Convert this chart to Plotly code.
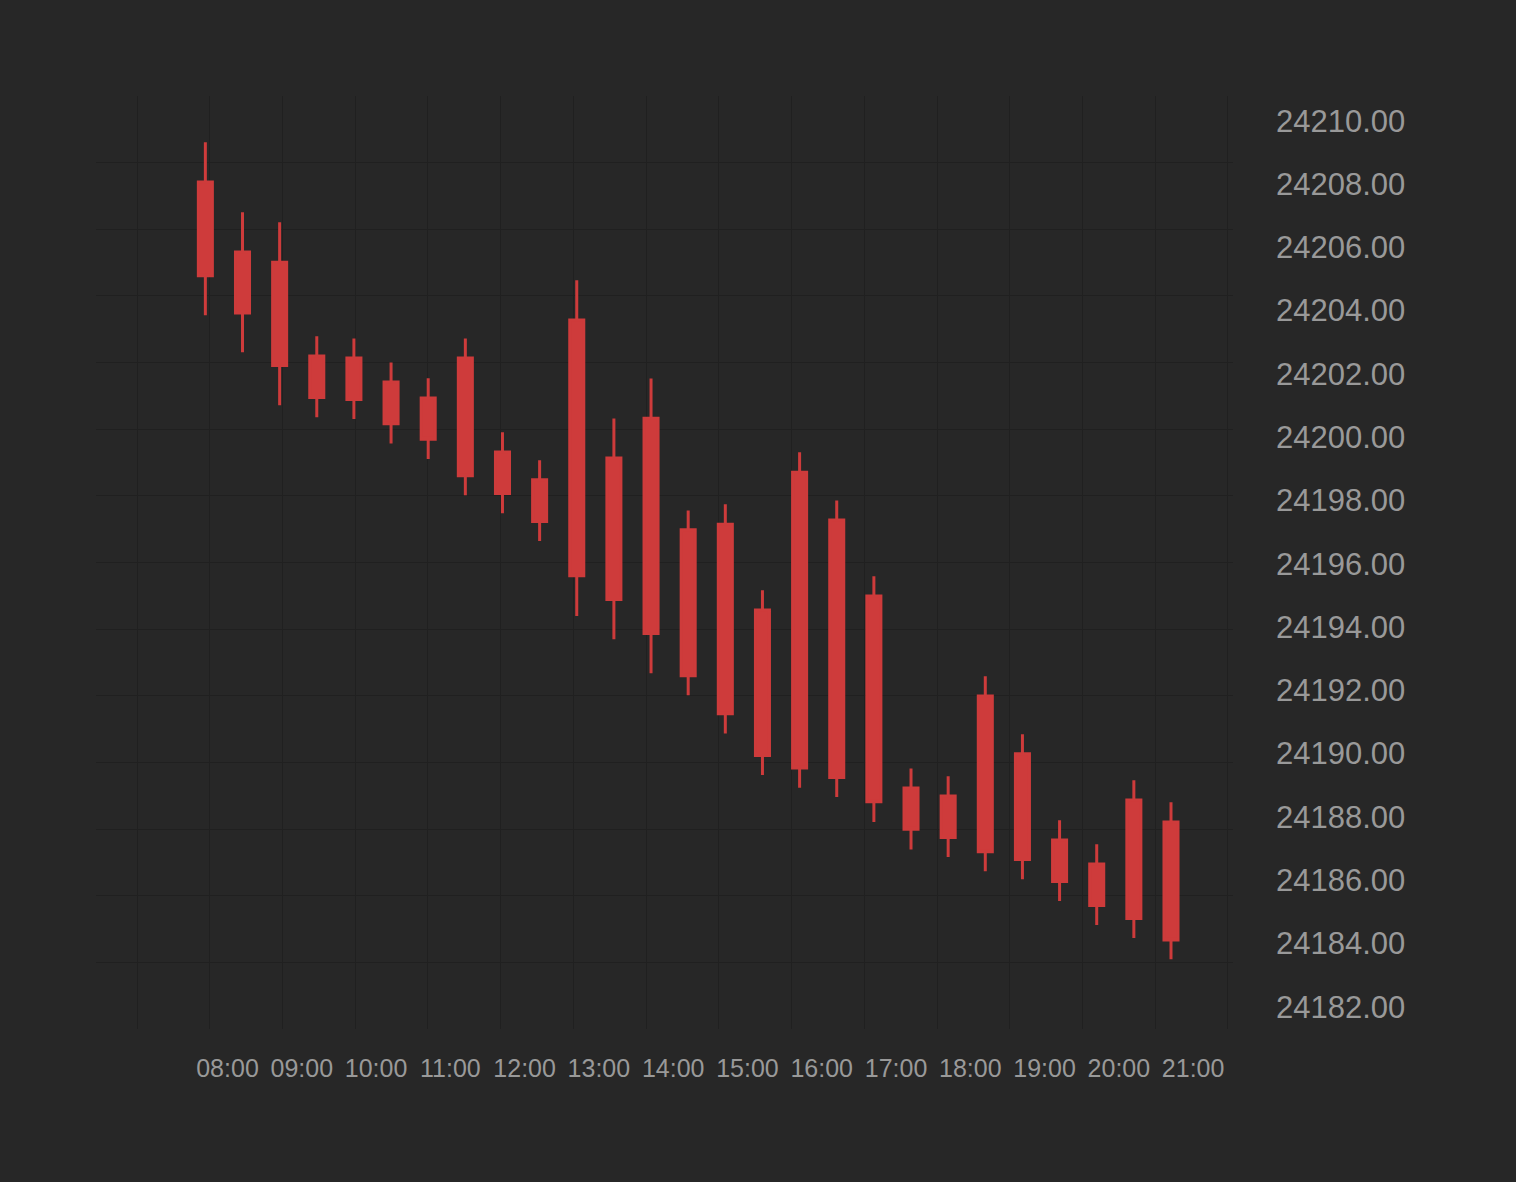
import plotly.graph_objects as go

# Half-hour bars
times = [
    "2024-01-15 07:30", "2024-01-15 08:00", "2024-01-15 08:30", "2024-01-15 09:00",
    "2024-01-15 09:30", "2024-01-15 10:00", "2024-01-15 10:30", "2024-01-15 11:00",
    "2024-01-15 11:30", "2024-01-15 12:00", "2024-01-15 12:30", "2024-01-15 13:00",
    "2024-01-15 13:30", "2024-01-15 14:00", "2024-01-15 14:30", "2024-01-15 15:00",
    "2024-01-15 15:30", "2024-01-15 16:00", "2024-01-15 16:30", "2024-01-15 17:00",
    "2024-01-15 17:30", "2024-01-15 18:00", "2024-01-15 18:30", "2024-01-15 19:00",
    "2024-01-15 19:30", "2024-01-15 20:00", "2024-01-15 20:30",
]

open_prices = [
    24208.06, 24205.85, 24205.53, 24202.56, 24202.50, 24201.74, 24201.24, 24202.50,
    24199.53, 24198.65, 24203.70, 24199.34, 24200.60, 24197.07, 24197.25, 24194.54,
    24198.89, 24197.38, 24194.98, 24188.91, 24188.66, 24191.82, 24189.99, 24187.27,
    24186.51, 24188.53, 24187.84,
]
high_prices = [
    24209.32, 24207.11, 24206.79, 24203.19, 24203.12, 24202.36, 24201.86, 24203.12,
    24200.15, 24199.27, 24204.96, 24200.59, 24201.85, 24197.68, 24197.88, 24195.16,
    24199.52, 24198.00, 24195.60, 24189.53, 24189.28, 24192.44, 24190.61, 24187.89,
    24187.13, 24189.16, 24188.46,
]
low_prices = [
    24203.85, 24202.68, 24201.01, 24200.63, 24200.57, 24199.80, 24199.31, 24198.16,
    24197.59, 24196.72, 24194.35, 24193.61, 24192.54, 24191.84, 24190.63, 24189.32,
    24188.92, 24188.63, 24187.84, 24186.97, 24186.73, 24186.28, 24186.03, 24185.34,
    24184.58, 24184.17, 24183.50,
]
close_prices = [
    24205.10, 24203.92, 24202.26, 24201.25, 24201.19, 24200.42, 24199.93, 24198.78,
    24198.22, 24197.33, 24195.62, 24194.87, 24193.79, 24192.46, 24191.26, 24189.94,
    24189.54, 24189.24, 24188.48, 24187.61, 24187.35, 24186.90, 24186.65, 24185.96,
    24185.20, 24184.79, 24184.11,
]

# hourly labels on the time axis
hour_ticks = [
    "2024-01-15 08:00", "2024-01-15 09:00", "2024-01-15 10:00", "2024-01-15 11:00",
    "2024-01-15 12:00", "2024-01-15 13:00", "2024-01-15 14:00", "2024-01-15 15:00",
    "2024-01-15 16:00", "2024-01-15 17:00", "2024-01-15 18:00", "2024-01-15 19:00",
    "2024-01-15 20:00", "2024-01-15 21:00",
]
hour_labels = [
    "08:00", "09:00", "10:00", "11:00", "12:00", "13:00", "14:00",
    "15:00", "16:00", "17:00", "18:00", "19:00", "20:00", "21:00",
]

bg = "#272727"
grid = "#202020"
red = "#CE3B3B"
label_font = "Liberation Sans"

fig = go.Figure()

fig.add_trace(go.Candlestick(
    x=times,
    open=open_prices,
    high=high_prices,
    low=low_prices,
    close=close_prices,
    increasing=dict(fillcolor=red, line=dict(color=red, width=3)),
    decreasing=dict(fillcolor=red, line=dict(color=red, width=3)),
    whiskerwidth=0,
    showlegend=False,
))

# empty trace so the grid axes get drawn
fig.add_trace(go.Scatter(x=[None], y=[None], xaxis="x2", yaxis="y2",
                         showlegend=False, hoverinfo="skip"))

fig.update_layout(
    width=1516,
    height=1182,
    paper_bgcolor=bg,
    plot_bgcolor=bg,
    margin=dict(l=96, r=283, t=96, b=153),
    boxgap=0.46,
    showlegend=False,
    xaxis=dict(
        type="date",
        range=["2024-01-15 06:01:40", "2024-01-15 21:20:05"],
        rangeslider=dict(visible=False),
        showgrid=False,
        zeroline=False,
        tickvals=hour_ticks,
        ticktext=hour_labels,
        ticklabelshift=-15,
        ticklabelstandoff=22,
        tickfont=dict(family=label_font, size=25, color="#999999"),
    ),
    yaxis=dict(
        side="right",
        range=[24181.295, 24210.78],
        dtick=2,
        tick0=24182,
        tickformat=".2f",
        showgrid=False,
        zeroline=False,
        ticklabelstandoff=42,
        tickfont=dict(family=label_font, size=31, color="#999999"),
    ),
    xaxis2=dict(
        overlaying="x",
        anchor="y2",
        range=[-0.564, 15.07],
        dtick=1,
        showgrid=True,
        gridcolor=grid,
        gridwidth=1,
        zeroline=False,
        showticklabels=False,
    ),
    yaxis2=dict(
        overlaying="y",
        anchor="x2",
        range=[0, 14],
        dtick=1,
        showgrid=True,
        gridcolor=grid,
        gridwidth=1,
        zeroline=False,
        showticklabels=False,
    ),
)

fig.write_html("out.html", config={"displayModeBar": False},
               post_script="document.body.style.margin = '0';")
